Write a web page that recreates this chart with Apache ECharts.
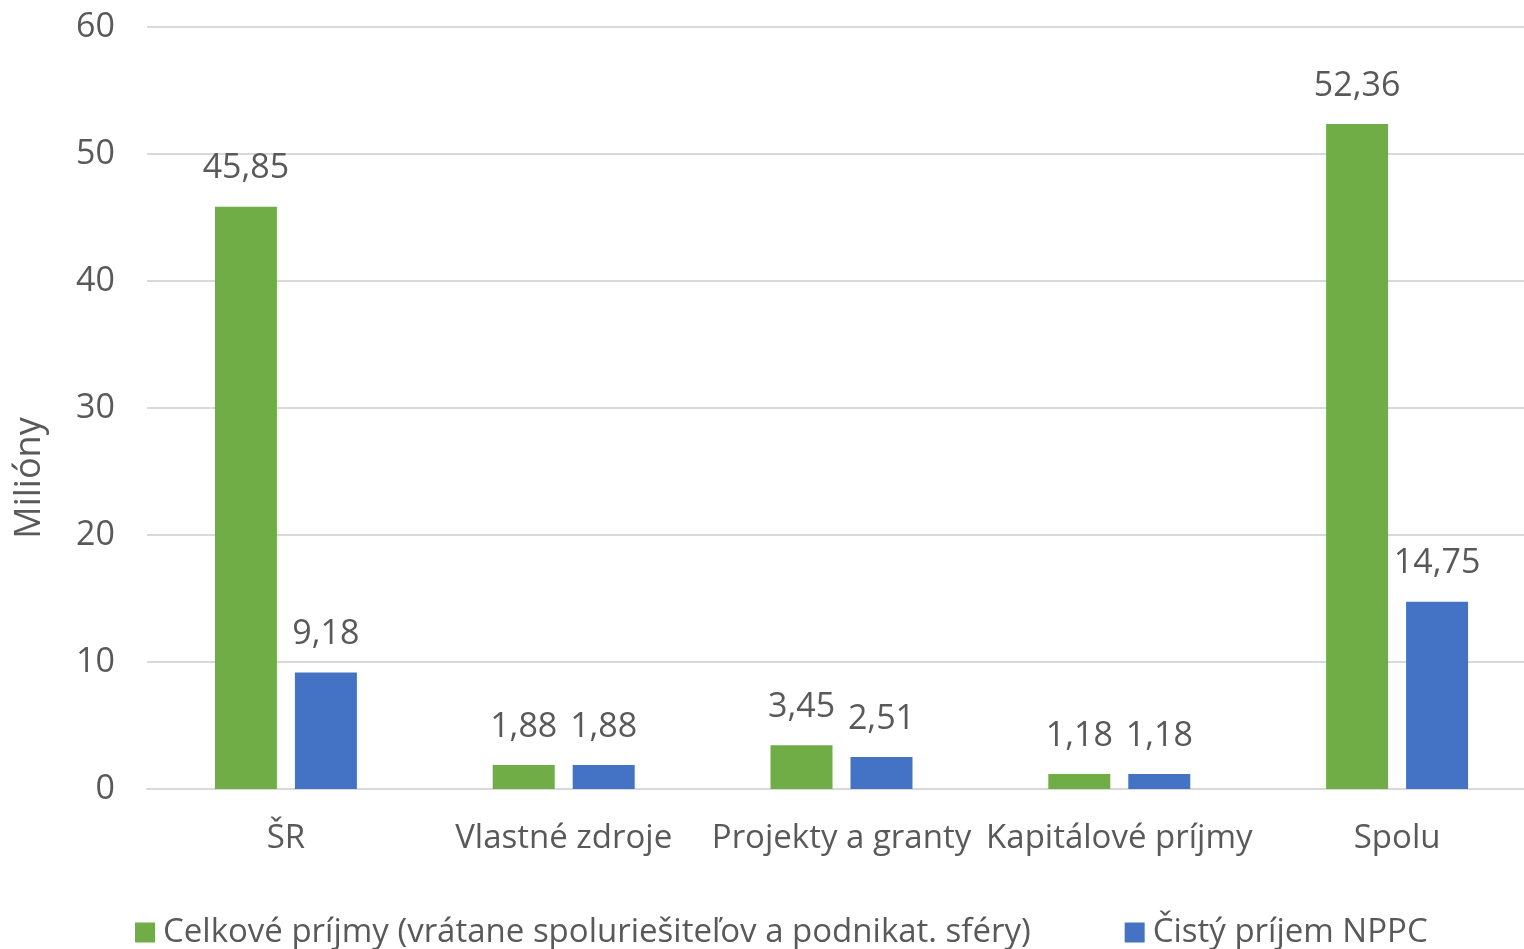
<!DOCTYPE html>
<html><head><meta charset="utf-8">
<script src="https://cdn.jsdelivr.net/npm/echarts@6/dist/echarts.min.js"></script>
<style>html,body{margin:0;padding:0;background:#fff;overflow:hidden;width:1524px;height:949px}#c{width:1536px;height:949px}</style>
</head><body><div id="c"></div>
<script>
const categories = ['ŠR', 'Vlastné zdroje', 'Projekty a granty', 'Kapitálové príjmy', 'Spolu'];
const celkove = [45.85, 1.88, 3.45, 1.18, 52.36];
const cisty = [9.18, 1.88, 2.51, 1.18, 14.75];
const seriesNames = ['Celkové príjmy (vrátane spoluriešiteľov a podnikat. sféry)', 'Čistý príjem NPPC'];
const yTicks = [0, 10, 20, 30, 40, 50, 60];

const FONT = 'Open Sans';
const TXT = '#595959';
const chart = echarts.init(document.getElementById('c'));
const lbl = {
  show: true, position: 'top', distance: 21, color: TXT, fontFamily: FONT, fontSize: 34,
  formatter: p => p.value.toFixed(2).replace('.', ',')
};
chart.setOption({
  animation: false,
  textStyle: { fontFamily: FONT },
  grid: { left: 147, right: 0, top: 27, bottom: 160, containLabel: false },
  legend: {
    left: 130, top: 911, itemWidth: 20, itemHeight: 20, itemGap: 94, icon: 'rect',
    textStyle: { color: TXT, fontFamily: FONT, fontSize: 33, padding: [0, 0, 0, 3] },
    data: seriesNames
  },
  xAxis: {
    type: 'category', data: categories,
    axisLine: { show: true, lineStyle: { color: '#d9d9d9', width: 2 } },
    axisTick: { show: false },
    axisLabel: { color: TXT, fontFamily: FONT, fontSize: 33, margin: 33, interval: 0 }
  },
  yAxis: {
    type: 'value', min: yTicks[0], max: yTicks[yTicks.length - 1], interval: 10,
    name: 'Milióny', nameLocation: 'middle', nameGap: 99, nameRotate: 90,
    nameTextStyle: { color: TXT, fontFamily: FONT, fontSize: 36, padding: [0, 140, 0, 0] },
    axisLine: { show: false }, axisTick: { show: false },
    axisLabel: { color: TXT, fontFamily: FONT, fontSize: 34, margin: 32 },
    splitLine: { lineStyle: { color: '#d9d9d9', width: 2 } }
  },
  series: [
    { name: seriesNames[0], type: 'bar', data: celkove, barWidth: 62, barGap: '29%',
      itemStyle: { color: '#70AD47' }, label: lbl },
    { name: seriesNames[1], type: 'bar', data: cisty, barWidth: 62, barGap: '29%',
      itemStyle: { color: '#4472C4' }, label: lbl }
  ]
});
</script></body></html>
